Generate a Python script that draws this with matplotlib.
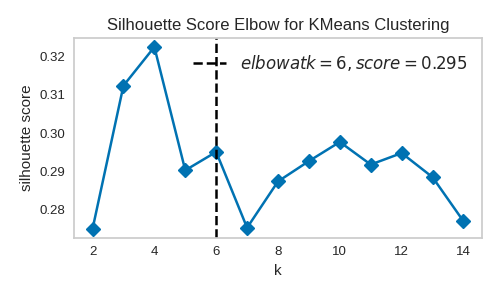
import matplotlib
matplotlib.use('Agg')
import matplotlib.pyplot as plt

# k values and silhouette scores
k_values = [2, 3, 4, 5, 6, 7, 8, 9, 10, 11, 12, 13, 14]
scores = [0.2750, 0.3124, 0.3225, 0.2903, 0.2951, 0.2753, 0.2874,
          0.2927, 0.2977, 0.2918, 0.2948, 0.2885, 0.2770]
elbow_k = 6
elbow_score = 0.295

plt.rcParams['font.family'] = ['Liberation Sans', 'DejaVu Sans']
plt.rcParams['text.color'] = '#262626'
plt.rcParams['axes.labelcolor'] = '#262626'
plt.rcParams['xtick.color'] = '#262626'
plt.rcParams['ytick.color'] = '#262626'

fig = plt.figure(figsize=(5, 2.96), dpi=100)
ax = fig.add_axes([0.148, 0.196, 0.816, 0.676])

ax.plot(k_values, scores, marker='D', color='#0072B2', linewidth=1.8,
        markersize=7.5)
ax.axvline(elbow_k, color='black', linestyle='--', linewidth=1.8,
           label="$elbow at k = {}, score = {:.3f}$".format(elbow_k, elbow_score))

ax.set_title("Silhouette Score Elbow for KMeans Clustering", fontsize=12)
ax.set_xlabel("k", fontsize=11)
ax.set_ylabel("silhouette score", fontsize=11)
ax.tick_params(length=0, labelsize=9.5, pad=6)
ax.set_xticks([2, 4, 6, 8, 10, 12, 14])
ax.set_yticks([0.28, 0.29, 0.30, 0.31, 0.32])
ax.set_yticklabels(["0.28", "0.29", "0.30", "0.31", "0.32"])

for spine in ax.spines.values():
    spine.set_color('#cccccc')
    spine.set_linewidth(1.25)

ax.legend(loc='upper right', frameon=False, fontsize=12)

fig.savefig('out.png', dpi=100)
